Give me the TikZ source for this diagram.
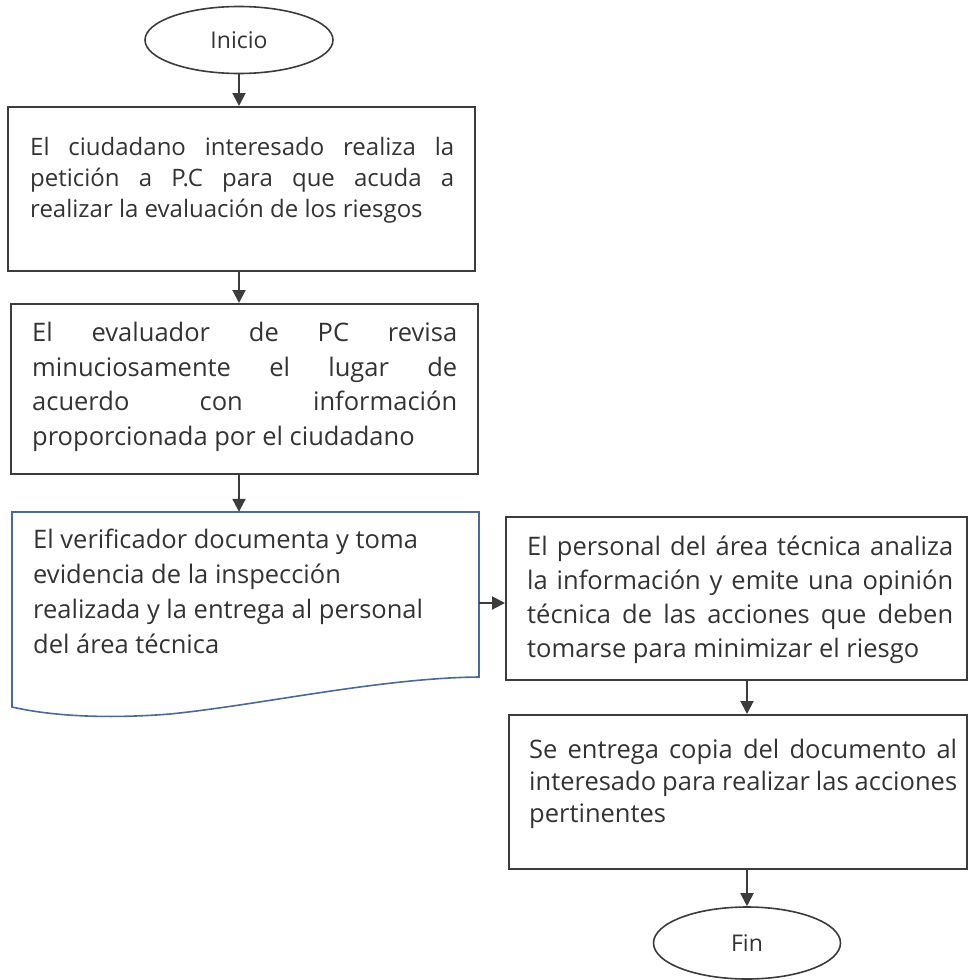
\documentclass[tikz,border=0pt]{standalone}
\usepackage{fontspec}
\setmainfont{Open Sans}
\usetikzlibrary{arrows.meta,shapes.geometric,calc}
\definecolor{ln}{HTML}{3C3C3C}
\definecolor{tx}{HTML}{333333}
\definecolor{docblue}{HTML}{4A6A9A}
\newcommand{\jl}[2]{\makebox[#1][s]{#2}}
\begin{document}
\begin{tikzpicture}[x=1pt,y=-1pt,
  box/.style={draw=ln, line width=2pt, rectangle, inner sep=0pt},
  term/.style={draw=ln, line width=1.6pt, ellipse, inner sep=0pt, text=tx, font=\fontsize{23}{28}\selectfont},
  txt/.style={anchor=base west, inner sep=0pt, align=left, text=tx},
  arr/.style={draw=ln, line width=2pt, -{Triangle[length=13pt,width=13pt]}}]
\useasboundingbox (0,0) rectangle (969,980);
% terminals
\node[term, minimum width=188pt, minimum height=67pt] (ini) at (239,40) {Inicio};
\node[term, minimum width=187pt, minimum height=72pt] (fin) at (747,943) {Fin};
% boxes
\node[box, minimum width=467pt, minimum height=164pt] (b1) at (241.5,189) {};
\node[box, minimum width=467pt, minimum height=170pt] (b2) at (244.5,389) {};
\node[inner sep=0pt, minimum width=467pt, minimum height=182pt] (b3) at (245.5,603) {};
\node[box, minimum width=461pt, minimum height=163pt] (b4) at (736.5,598.5) {};
\node[box, minimum width=458pt, minimum height=154pt] (b5) at (738,792) {};
% document shape
\draw[docblue, line width=1.6pt] (12,677) -- (12,512) -- (479,512) -- (479,677)
  .. controls (380,678) and (260,705) .. (170,714)
  .. controls (120,718) and (60,718) .. (12,707) -- cycle;
% texts (anchored at the baseline of the last line)
\node[txt, font=\fontsize{24}{31}\selectfont] (t1) at (30,217) {%
  \jl{424pt}{El ciudadano interesado realiza la}\\
  \jl{424pt}{petición a P.C para que acuda a}\\
  realizar la evaluación de los riesgos};
\node[txt, font=\fontsize{25.5}{34.5}\selectfont] (t2) at (32,445) {%
  \jl{425pt}{El evaluador de PC revisa}\\
  \jl{425pt}{minuciosamente el lugar de}\\
  \jl{425pt}{acuerdo con información}\\
  proporcionada por el ciudadano};
\node[txt, font=\fontsize{25.5}{35}\selectfont] (t3) at (33,653) {%
  El verificador documenta y toma\\
  evidencia de la inspección\\
  realizada y la entrega al personal\\
  del área técnica};
\node[txt, font=\fontsize{25.5}{34}\selectfont] (t4) at (527,657) {%
  \jl{426pt}{El personal del área técnica analiza}\\
  \jl{426pt}{la información y emite una opinión}\\
  \jl{426pt}{técnica de las acciones que deben}\\
  tomarse para minimizar el riesgo};
\node[txt, font=\fontsize{25.5}{32}\selectfont] (t5) at (529,822) {%
  \jl{428pt}{Se entrega copia del documento al}\\
  \jl{428pt}{interesado para realizar las acciones}\\
  pertinentes};
% connectors
\draw[arr] (ini.south) -- (ini.south |- b1.north);
\draw[arr] (b1.south -| ini) -- (b2.north -| ini);
\draw[arr] (b2.south -| ini) -- (b3.north -| ini);
\draw[arr] (b3.east) -- (b3.east -| b4.west);
\draw[arr] (b4.south -| fin) -- (b5.north -| fin);
\draw[arr] (b5.south -| fin) -- (fin.north);
\end{tikzpicture}
\end{document}
